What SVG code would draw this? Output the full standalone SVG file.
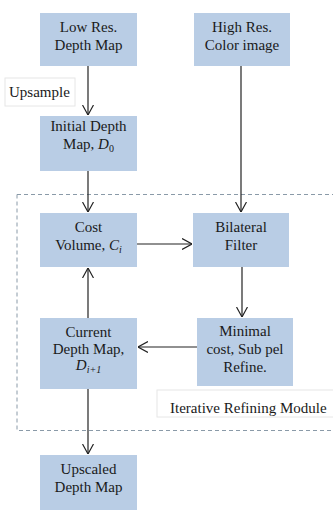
<svg xmlns="http://www.w3.org/2000/svg" width="333" height="510" viewBox="0 0 333 510">
<defs>
<style>
.box{fill:#b9cde5;}
.lbl{fill:#ffffff;stroke:#e6e6e6;stroke-width:1;}
.t{font-family:"Liberation Serif","Times New Roman",serif;font-size:15px;fill:#1a1a1a;text-anchor:middle;}
.tl{font-family:"Liberation Serif","Times New Roman",serif;font-size:15px;fill:#1a1a1a;}
.c{stroke:#222;stroke-width:1.2;fill:none;marker-end:url(#ah);}
.dash{fill:none;stroke:#8a9aa8;stroke-width:1;stroke-dasharray:4,3;}
</style>
<marker id="ah" viewBox="0 0 10 12" refX="10" refY="6" markerWidth="10" markerHeight="12" markerUnits="userSpaceOnUse" orient="auto">
<path d="M0,0.5 L10,6 L0,11.5" fill="none" stroke="#222" stroke-width="1.2"/>
</marker>
</defs>
<rect width="333" height="510" fill="#ffffff"/>
<rect class="dash" x="17" y="194.5" width="326" height="236"/>
<g id="upsample-label">
<rect class="lbl" x="5" y="78" width="70" height="28"/>
<text class="tl" x="9" y="97">Upsample</text>
</g>
<g id="iterative-label">
<rect class="lbl" x="157" y="390" width="180" height="27"/>
<text class="tl" x="170" y="413">Iterative Refining Module</text>
</g>
<g id="low-res">
<rect class="box" x="40" y="13" width="97" height="53"/>
<text class="t" x="88.5" y="32">Low Res.</text>
<text class="t" x="88.5" y="50">Depth Map</text>
</g>
<g id="high-res">
<rect class="box" x="194" y="13" width="96" height="53"/>
<text class="t" x="242" y="32">High Res.</text>
<text class="t" x="242" y="50">Color image</text>
</g>
<g id="initial-depth">
<rect class="box" x="40" y="116" width="97" height="55"/>
<text class="t" x="88.5" y="131">Initial Depth</text>
<text class="t" x="88.5" y="149">Map, <tspan font-style="italic">D</tspan><tspan font-size="10" dy="3">0</tspan></text>
</g>
<g id="cost-volume">
<rect class="box" x="40" y="213" width="97" height="54"/>
<text class="t" x="88.5" y="232">Cost</text>
<text class="t" x="88.5" y="250">Volume, <tspan font-style="italic">C</tspan><tspan font-size="10" font-style="italic" dy="3">i</tspan></text>
</g>
<g id="bilateral">
<rect class="box" x="193" y="213" width="96" height="54"/>
<text class="t" x="241" y="232">Bilateral</text>
<text class="t" x="241" y="250">Filter</text>
</g>
<g id="current-depth">
<rect class="box" x="40" y="318" width="97" height="71"/>
<text class="t" x="88.5" y="337">Current</text>
<text class="t" x="88.5" y="354">Depth Map,</text>
<text class="t" x="88.5" y="370"><tspan font-style="italic">D</tspan><tspan font-size="10" font-style="italic" dy="3">i+1</tspan></text>
</g>
<g id="minimal-cost">
<rect class="box" x="197" y="318" width="96" height="68"/>
<text class="t" x="245" y="336">Minimal</text>
<text class="t" x="245" y="354">cost, Sub pel</text>
<text class="t" x="245" y="372">Refine.</text>
</g>
<g id="upscaled">
<rect class="box" x="40" y="455" width="97" height="58"/>
<text class="t" x="88.5" y="474">Upscaled</text>
<text class="t" x="88.5" y="492">Depth Map</text>
</g>
<g id="connectors">
<line class="c" x1="88" y1="66" x2="88" y2="115"/>
<line class="c" x1="88" y1="171" x2="88" y2="212"/>
<line class="c" x1="241" y1="66" x2="241" y2="212"/>
<line class="c" x1="137" y1="244" x2="192" y2="244"/>
<line class="c" x1="242" y1="267" x2="242" y2="317"/>
<line class="c" x1="197" y1="347" x2="138" y2="347"/>
<line class="c" x1="88" y1="318" x2="88" y2="268"/>
<line class="c" x1="88" y1="389" x2="88" y2="454"/>
</g>
</svg>
